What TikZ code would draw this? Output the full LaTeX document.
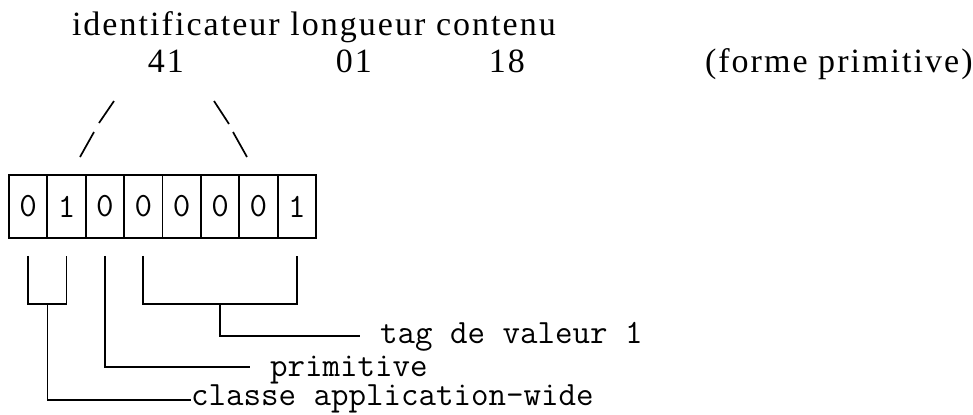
\documentclass[tikz,border=0pt]{standalone}
\usepackage{fontspec}
\setmainfont{Liberation Serif}
\newfontfamily\headfont[LetterSpace=6]{Liberation Serif}
\usetikzlibrary{calc}

\begin{document}
\begin{tikzpicture}[x=0.5pt,y=-0.5pt,line width=0.9pt,
  head/.style={inner sep=0pt,outer sep=0pt,anchor=base west,
    font=\headfont\fontsize{17}{20}\selectfont},
  headnum/.style={head,anchor=base},
  cell/.style={draw,inner sep=0pt,minimum width=19.1875pt,minimum height=31.5pt,
    font=\ttfamily\fontsize{17}{17}\selectfont},
  lab/.style={inner sep=0pt,outer sep=0pt,anchor=base west,
    font=\ttfamily\fontsize{17}{17}\selectfont},
  conn/.style={line width=0.85pt,line join=miter}
]
\useasboundingbox (0,0) rectangle (973,414);

% header: field names, octet values and encoding form
\node[head] (hdr) at (72,35) {identificateur longueur contenu};
\node[headnum] (vid) at (166,72) {41};
\node[headnum] (vlen) at (354,72) {01};
\node[headnum] (vval) at (507,72) {18};
\node[head] (form) at (705,72) {(forme primitive)};

% the identifier octet, bit by bit
\foreach \b [count=\i] in {0,1,0,0,0,0,0,1}
  \node[cell] (c\i) at ({9+38.375*(\i-0.5)},206.5) {\b};

% broken lines fanning from the identifier value to the octet
\draw[conn] (114,101) -- (99,123);
\draw[conn] (94,132) -- (80,157);
\draw[conn] (214,101) -- (229,124);
\draw[conn] (233,132) -- (247,157);

% bit-field labels
\node[lab] (ltag)  at (380,343) {tag de valeur 1};
\node[lab] (lprim) at (270,376) {primitive};
\node[lab] (lcls)  at (191,405) {classe application-wide};

\coordinate (etag)  at (360,336);
\coordinate (eprim) at (250,367);
\coordinate (ecls)  at (lcls.base west |- 0,400);

% class bits (1-2)
\draw[conn] ($(c1.south)+(0,17)$) -- ($(c1.south)+(0,65)$)
  -- ($(c2.south)+(0,65)$) -- ($(c2.south)+(0,17)$);
\draw[conn] ($(c1.south)!0.5!(c2.south)+(0,65)$) |- (ecls);

% primitive/constructed bit (3)
\draw[conn] ($(c3.south)+(0,17)$) |- (eprim);

% tag number bits (4-8)
\draw[conn] ($(c4.south)+(0,17)$) -- ($(c4.south)+(0,65)$)
  -- ($(c8.south)+(0,65)$) -- ($(c8.south)+(0,17)$);
\draw[conn] ($(c4.south)!0.5!(c8.south)+(0,65)$) |- (etag);
\end{tikzpicture}
\end{document}
